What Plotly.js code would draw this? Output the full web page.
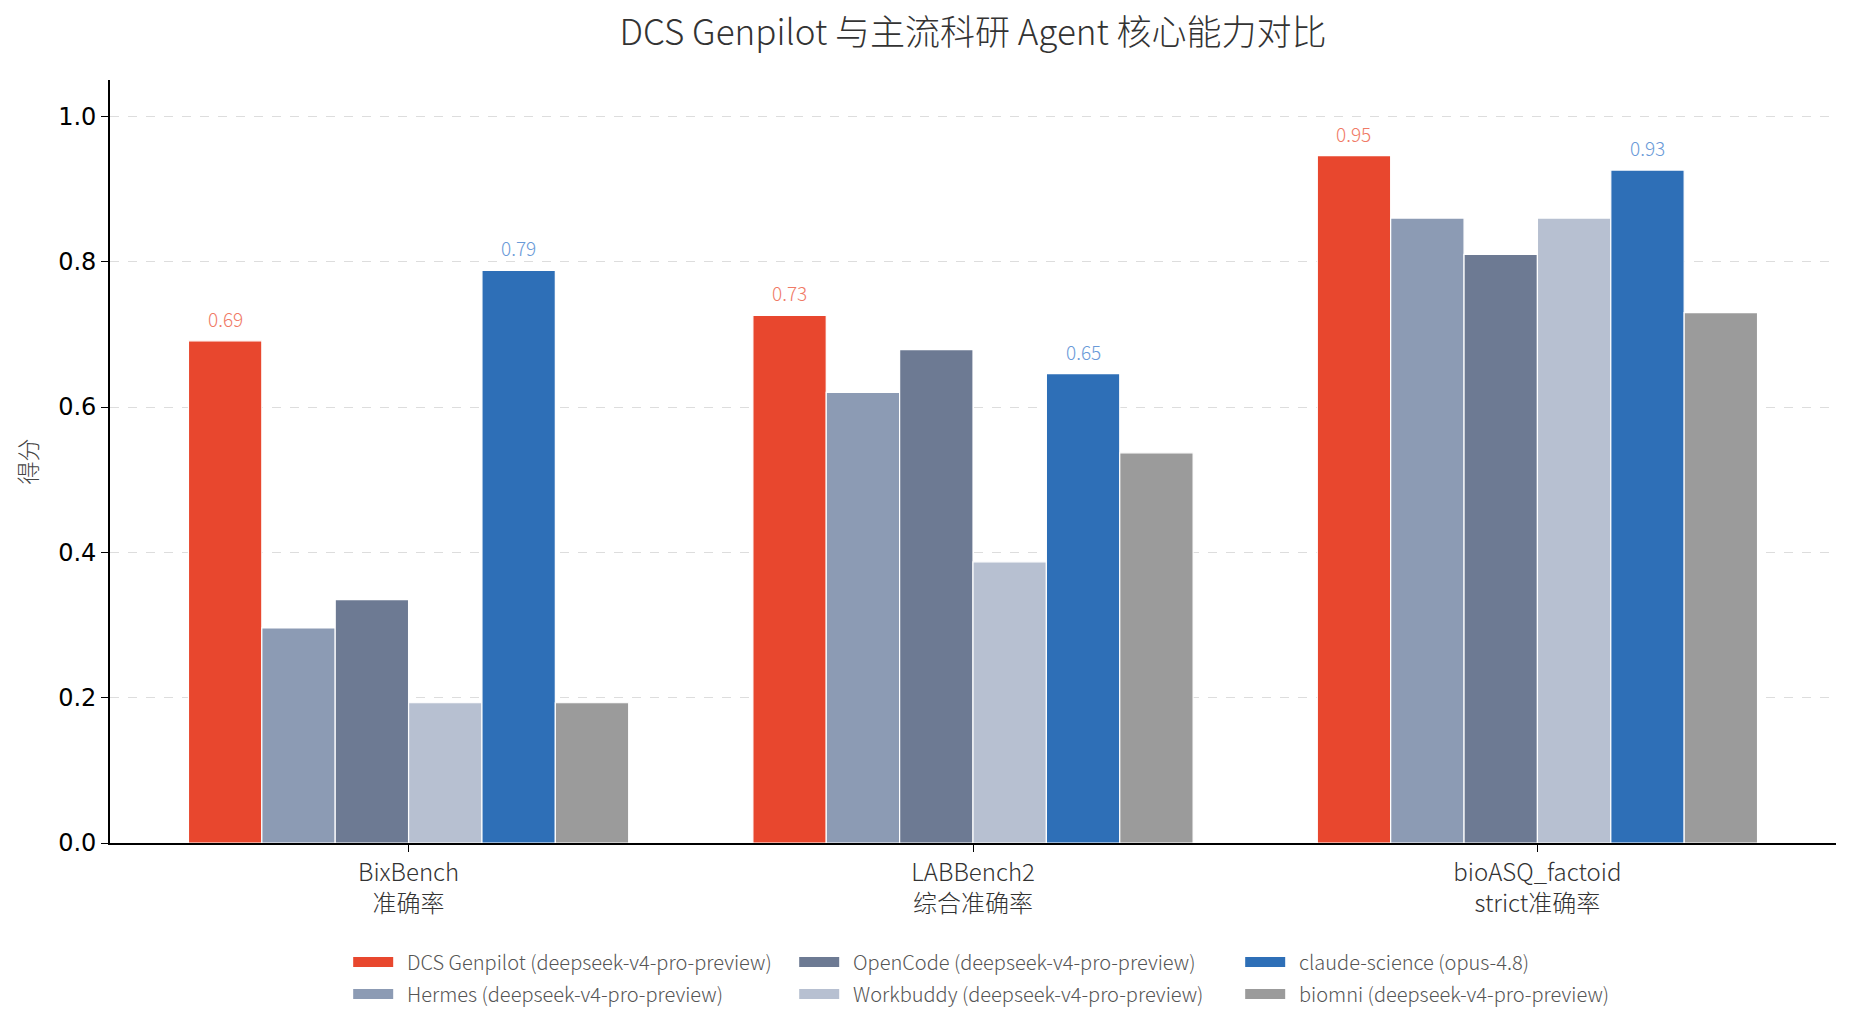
<!DOCTYPE html>
<html>
<head>
<meta charset="utf-8">
<script src="https://cdn.plot.ly/plotly-3.0.1.min.js"></script>
<style>
  html, body { margin: 0; padding: 0; background: #fff; }
  #chart { width: 1853px; height: 1031px; }
</style>
</head>
<body>
<div id="chart"></div>
<script>
var categories = ["BixBench<br>准确率", "LABBench2<br>综合准确率", "bioASQ_factoid<br>strict准确率"];

var names = [
    "DCS Genpilot (deepseek-v4-pro-preview)",
    "Hermes (deepseek-v4-pro-preview)",
    "OpenCode (deepseek-v4-pro-preview)",
    "Workbuddy (deepseek-v4-pro-preview)",
    "claude-science (opus-4.8)",
    "biomni (deepseek-v4-pro-preview)"
];

var genpilot = [0.691, 0.726, 0.946];
var hermes = [0.296, 0.620, 0.860];
var opencode = [0.335, 0.679, 0.810];
var workbuddy = [0.193, 0.387, 0.860];
var claude = [0.788, 0.646, 0.926];
var biomni = [0.193, 0.537, 0.730];

var colors = ["#E8472E", "#8C9BB4", "#6D7A93", "#B7C0D1", "#2E6FB7", "#9B9B9B"];
var labelColors = ["#F07A66", null, null, null, "#6A9AD8", null];
// legend rows: matplotlib ncol=3 fills by column
var legendOf = ["legend", "legend2", "legend", "legend2", "legend", "legend2"];

var series = [genpilot, hermes, opencode, workbuddy, claude, biomni];
var font = "Noto Sans CJK SC Light, Source Han Sans SC Light, Noto Sans CJK SC, sans-serif";
var bargap = 0.22;
var barW = (1 - bargap) / series.length;

var data = [];
var annotations = [];
for (var i = 0; i < series.length; i++) {
    data.push({
        type: "bar",
        name: names[i],
        x: categories,
        y: series[i],
        showlegend: false,
        marker: {color: colors[i], line: {color: "#ffffff", width: 1.2}},
        hoverinfo: "y+name"
    });
    // legend proxy, drawn as a wide swatch
    data.push({
        type: "scatter",
        mode: "lines",
        name: "\u00a0\u00a0" + names[i],
        x: [categories[0]],
        y: [null],
        line: {color: colors[i], width: 12},
        legend: legendOf[i],
        hoverinfo: "skip"
    });
    if (labelColors[i]) {
        for (var j = 0; j < categories.length; j++) {
            annotations.push({
                x: j + (i - (series.length - 1) / 2) * barW,
                y: series[i][j],
                xref: "x",
                yref: "y",
                text: series[i][j].toFixed(2),
                showarrow: false,
                yanchor: "bottom",
                yshift: 7,
                font: {family: font, size: 19, color: labelColors[i]}
            });
        }
    }
}

var legendBase = {
    orientation: "h",
    x: 0.138,
    xanchor: "left",
    yanchor: "middle",
    entrywidth: 391,
    itemwidth: 40,
    font: {family: font, size: 20, color: "#555555"},
    bgcolor: "rgba(0,0,0,0)"
};

var layout = {
    width: 1853,
    height: 1031,
    margin: {l: 110, r: 17, t: 80, b: 0},
    paper_bgcolor: "#ffffff",
    plot_bgcolor: "#ffffff",
    font: {family: font, color: "#333333"},
    title: {
        text: "DCS Genpilot 与主流科研 Agent 核心能力对比",
        font: {family: font, size: 35, color: "#333333"},
        x: 0.5 + (110 - 17) / 2 / 1853,
        xanchor: "center",
        y: 0.968,
        yanchor: "middle"
    },
    barmode: "group",
    bargap: bargap,
    bargroupgap: 0,
    annotations: annotations,
    xaxis: {
        showline: true,
        linecolor: "#000000",
        linewidth: 1.8,
        ticks: "outside",
        ticklen: 7,
        tickwidth: 1.4,
        tickcolor: "#000000",
        showgrid: false,
        tickfont: {family: font, size: 24, color: "#333333"},
        range: [-0.529, 2.529]
    },
    yaxis: {
        domain: [188 / 951, 1],
        title: {text: "得分", font: {family: font, size: 23, color: "#444444"}, standoff: 14},
        range: [0, 1.05],
        dtick: 0.2,
        tickformat: ".1f",
        showline: true,
        linecolor: "#000000",
        linewidth: 1.8,
        ticks: "outside",
        ticklen: 7,
        tickwidth: 1.4,
        tickcolor: "#000000",
        showgrid: true,
        gridcolor: "#dddddd",
        gridwidth: 1.4,
        griddash: "dash",
        zeroline: false,
        tickfont: {family: "DejaVu Sans, sans-serif", size: 24, color: "#000000"}
    },
    legend: Object.assign({}, legendBase, {y: 69 / 951}),
    legend2: Object.assign({}, legendBase, {y: 37 / 951}),
    showlegend: true
};

Plotly.newPlot("chart", data, layout, {displayModeBar: false, responsive: false});
</script>
</body>
</html>
